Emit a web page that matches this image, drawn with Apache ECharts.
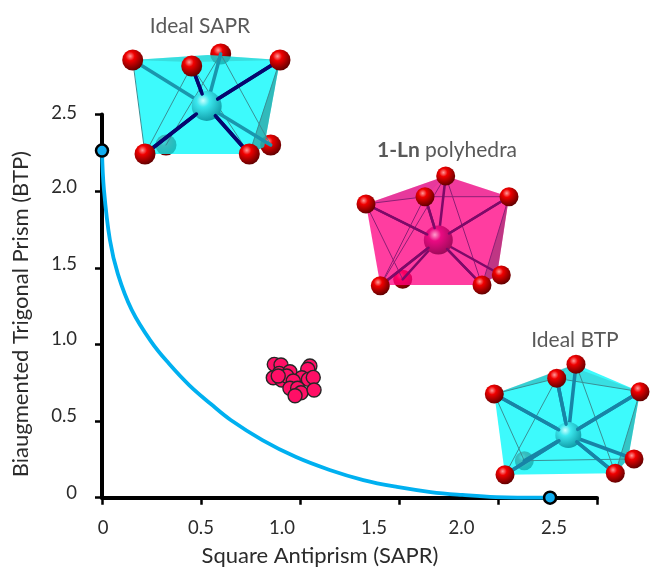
<!DOCTYPE html>
<html>
<head>
<meta charset="utf-8">
<style>html,body{margin:0;padding:0;background:#fff}#c{width:650px;height:567px}</style>
<script src="https://cdn.jsdelivr.net/npm/echarts@6/dist/echarts.min.js"></script>
</head>
<body>
<div id="c"></div>
<script>
// ---- data ----
const xAxisTitle = 'Square Antiprism (SAPR)';
const yAxisTitle = 'Biaugmented Trigonal Prism (BTP)';
const tickValues = [0, 0.5, 1.0, 1.5, 2.0, 2.5];
const tickLabels = ['0', '0.5', '1.0', '1.5', '2.0', '2.5'];
const pathX = [0, 0.01, 0.04, 0.08, 0.15, 0.25, 0.34, 0.44, 0.55, 0.65, 0.81, 0.98, 1.15, 1.32, 1.49, 1.66, 1.82, 1.99, 2.23, 2.263];
const pathY = [2.265, 2.007, 1.681, 1.46, 1.225, 1.015, 0.872, 0.735, 0.611, 0.507, 0.376, 0.265, 0.181, 0.115, 0.070, 0.037, 0.018, 0.004, 0, 0];
const idealX = [0, 2.263];
const idealY = [2.265, 0];
const lnX = [0.87, 0.904, 0.895, 0.865, 0.908, 0.949, 0.933, 1.05, 1.039, 1.009, 1.042, 1.067, 0.966, 0.949, 0.988, 1.005, 0.975, 1.071, 0.89];
const lnY = [0.87, 0.866, 0.811, 0.783, 0.768, 0.822, 0.794, 0.859, 0.838, 0.783, 0.772, 0.785, 0.761, 0.714, 0.714, 0.685, 0.665, 0.703, 0.794];

// ---- illustration of the three polyhedra (decoration, in page pixels) ----
const zip = (a, b) => a.map((v, i) => [v, b[i]]);
function sphere(p, r, c0, c1, c2, z) {
  return { type: 'circle', z, shape: { cx: p[0], cy: p[1], r }, style: { fill: new echarts.graphic.RadialGradient(0.38, 0.32, 0.72, [
    { offset: 0, color: c0 }, { offset: 0.3, color: c1 }, { offset: 1, color: c2 }]) } };
}
function oxygen(p, r, z) { return sphere(p, r, '#ff9a9a', '#f00000', '#5a0000', z); }
function poly(pts, fill, opacity, z) { return { type: 'polygon', z, shape: { points: pts }, style: { fill, opacity } }; }
function seg(a, b, stroke, lineWidth, z) { return { type: 'line', z, shape: { x1: a[0], y1: a[1], x2: b[0], y2: b[1] }, style: { stroke, lineWidth, lineCap: 'round' } }; }

function polyhedron(s) {
  const A = s.atoms, out = [];
  s.backAtoms.forEach(i => out.push(oxygen(A[i], s.rO, 20)));
  s.faces.forEach(f => out.push(poly(f.idx.map(i => Array.isArray(i) ? i : A[i]), f.fill, f.op, 21)));
  s.edges.forEach(e => out.push(seg(A[e[0]], A[e[1]], s.edgeColor, 1, 22)));
  s.backBonds.forEach(i => out.push(seg(s.center, A[i], s.backBond, s.bondW, 23)));
  s.frontBonds.forEach(i => out.push(seg(s.center, A[i], s.frontBond, s.bondW, 24)));
  out.push(sphere(s.center, s.rC, s.core[0], s.core[1], s.core[2], 25));
  s.frontBonds.forEach(i => {
    const dx = A[i][0] - s.center[0], dy = A[i][1] - s.center[1], d = Math.hypot(dx, dy), k = (s.rC - 2) / d;
    out.push(seg([s.center[0] + dx * k, s.center[1] + dy * k], A[i], s.frontBond, s.bondW, 26));
  });
  s.frontAtoms.forEach(i => out.push(oxygen(A[i], s.rO, 27)));
  return out;
}

const sapr = {
  atoms: [[132.7,60],[220.7,54],[191.7,66],[280,60],[145,154],[166,145],[249.3,154],[270.7,145]],
  center: [206.7,106], rC: 15, rO: 10.5,
  backAtoms: [1,5,7], frontAtoms: [0,2,3,4,6],
  faces: [
    { idx: [[133,60],[208,55],[280,60],[264,147],[249,154],[145,154]], fill: '#00f9fb', op: 0.76 },
    { idx: [[133,60],[208,55],[280,60],[191,62]], fill: '#30a8a8', op: 0.35 },
    { idx: [[280,60],[264,147],[249,154]], fill: '#2a8f90', op: 0.6 }
  ],
  edges: [[2,4],[2,6],[1,5],[1,7],[0,4],[3,6]],
  edgeColor: '#3a8f95', backBonds: [0,1,7], frontBonds: [2,3,4,6],
  backBond: '#1a96ad', frontBond: '#06066e', bondW: 3.5,
  core: ['#c8ffff', '#3ce8ee', '#0e9aa6']
};
const lnP = {
  atoms: [[445.7,176],[425,196.7],[366,204],[509,196.7],[380.3,285.7],[402.7,279.3],[482,285],[501.3,275]],
  center: [438.3,240], rC: 14.5, rO: 9.5,
  backAtoms: [5], frontAtoms: [0,1,2,3,4,6,7],
  faces: [
    { idx: [[366,204],[445.7,176],[509,196.7],[497,275],[482,285],[380.3,285]], fill: '#ff0082', op: 0.76 },
    { idx: [[366,204],[445.7,176],[425,196.7]], fill: '#a03090', op: 0.25 },
    { idx: [[445.7,176],[509,196.7],[425,196.7]], fill: '#a03090', op: 0.15 },
    { idx: [[509,196.7],[497,275],[482,285]], fill: '#803068', op: 0.5 }
  ],
  edges: [[2,1],[1,3],[1,4],[0,6],[2,5],[0,4],[3,6]],
  edgeColor: '#8e1f75', backBonds: [0,5,7], frontBonds: [1,2,3,4,6],
  backBond: '#7d0a68', frontBond: '#7d0a68', bondW: 2.5,
  core: ['#ff9ccc', '#ea0a82', '#9a0a58']
};
const btp = {
  atoms: [[576,364.3],[556.7,378.3],[494.3,394],[640,391.7],[505,474.7],[524.3,460.7],[615.3,473.3],[634,459]],
  center: [568.3,435], rC: 13, rO: 9.5,
  backAtoms: [5], frontAtoms: [0,1,2,3,4,6,7],
  faces: [
    { idx: [[494.3,394],[576,364.3],[640,391.7],[628,459],[615.3,473.3],[505,474.7]], fill: '#00f9fb', op: 0.76 },
    { idx: [[494.3,394],[570,366],[556.7,378.3]], fill: '#2a9095', op: 0.4 },
    { idx: [[570,366],[640,391.7],[556.7,378.3]], fill: '#2a9095', op: 0.25 },
    { idx: [[640,391.7],[628,459],[615.3,473.3]], fill: '#2a8f90', op: 0.5 }
  ],
  edges: [[2,1],[1,3],[1,4],[0,6],[2,5],[5,7],[3,6]],
  edgeColor: '#3a8f95', backBonds: [0,5,7], frontBonds: [1,2,3,4,6],
  backBond: '#1884a6', frontBond: '#1884a6', bondW: 3.5,
  core: ['#c8ffff', '#3ce8ee', '#0e9aa6']
};

const titleFont = 'Lato, Carlito, sans-serif';
function caption(x, y, rich, text) {
  return { type: 'text', z: 30, x, y, style: { text, x: 0, y: 0, align: 'center', verticalAlign: 'middle', fontFamily: titleFont, fontSize: 21, fill: '#595959', rich } };
}

const xRich = {
  a0: { padding: [0, 0, 0, 2] }, a1: { padding: [0, 0, 0, 0] }, a2: { padding: [0, 36, 0, 0] },
  a3: { padding: [0, 50, 0, 0] }, a4: { padding: [0, 73, 0, 0] }, a5: { padding: [0, 86, 0, 0] }
};
const yRich = {};
[9, 10, 10, 8, 8, 3].forEach((v, i) => { yRich['a' + i] = { padding: [0, 0, v, 0] }; });
const idx = v => tickValues.indexOf(v);

const chart = echarts.init(document.getElementById('c'), null, { renderer: 'canvas' });
chart.setOption({
  animation: false,
  backgroundColor: '#ffffff',
  grid: { left: 102, right: 53, top: 114.5, bottom: 69.3, outerBoundsMode: 'none' },
  xAxis: {
    type: 'value', min: 0, max: 2.5, interval: 0.5, splitLine: { show: false },
    axisLine: { onZero: false, lineStyle: { color: '#000', width: 4 } },
    axisTick: { length: 7, lineStyle: { color: '#000', width: 2.5 } },
    axisLabel: { margin: 21, color: '#2b2b2b', fontFamily: titleFont, fontSize: 18.5, hideOverlap: false, showMinLabel: true, showMaxLabel: true,
      formatter: v => `{a${idx(v)}|${tickLabels[idx(v)]}}`, rich: xRich },
    name: xAxisTitle, nameLocation: 'middle', nameGap: 47,
    nameTextStyle: { color: '#2b2b2b', fontFamily: titleFont, fontSize: 22, padding: [0, 59, 0, 0] }
  },
  yAxis: {
    type: 'value', min: 0, max: 2.5, interval: 0.5, splitLine: { show: false },
    axisLine: { onZero: false, lineStyle: { color: '#000', width: 4 } },
    axisTick: { length: 7, lineStyle: { color: '#000', width: 2.5 } },
    axisLabel: { margin: 25, color: '#2b2b2b', fontFamily: titleFont, fontSize: 18.5, showMinLabel: true, showMaxLabel: true,
      formatter: v => `{a${idx(v)}|${tickLabels[idx(v)]}}`, rich: yRich },
    name: yAxisTitle, nameLocation: 'middle', nameGap: 70, nameRotate: 90,
    nameTextStyle: { color: '#2b2b2b', fontFamily: titleFont, fontSize: 22, padding: [0, 16, 0, 0] }
  },
  series: [
    { name: 'Minimal distortion path', type: 'line', data: zip(pathX, pathY), smooth: 0.4, showSymbol: false, clip: false, z: 3,
      lineStyle: { color: '#00b0f0', width: 3.8 } },
    { name: 'Ideal polyhedra', type: 'scatter', data: zip(idealX, idealY), symbolSize: 12, clip: false, z: 4,
      itemStyle: { color: '#12aef0', borderColor: '#000', borderWidth: 2.5, opacity: 1 } },
    { name: '1-Ln', type: 'scatter', data: zip(lnX, lnY), symbolSize: 14, clip: false, z: 5,
      itemStyle: { color: '#ff0f66', borderColor: '#262626', borderWidth: 1.4, opacity: 1 } }
  ],
  graphic: { elements: [
    ...polyhedron(sapr), ...polyhedron(lnP), ...polyhedron(btp),
    caption(200, 26, null, 'Ideal SAPR'),
    caption(447, 150, { b: { fontWeight: 'bold', fontFamily: titleFont, fontSize: 21, fill: '#595959' } }, '{b|1-Ln} polyhedra'),
    caption(575, 340, null, 'Ideal BTP')
  ] }
});
</script>
</body>
</html>
